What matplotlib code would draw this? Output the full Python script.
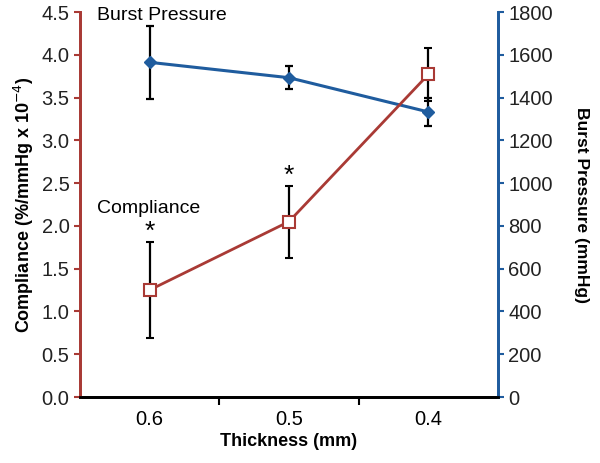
import matplotlib
matplotlib.use('Agg')
import matplotlib.pyplot as plt
import numpy as np

plt.rcParams['font.family'] = ['Liberation Sans', 'DejaVu Sans']

# Data
thickness = ['0.6', '0.5', '0.4']
compliance = [1.25, 2.05, 3.77]
compliance_err = [0.56, 0.42, 0.31]
burst = [1565, 1493, 1333]
burst_err = [172, 55, 66]
stars = ['*', '*', '']

red = '#A93A35'
blue = '#1F5C9E'

fig = plt.figure(figsize=(6, 4.63), dpi=100)
ax = fig.add_axes([0.133, 0.1425, 0.697, 0.8315])
ax2 = ax.twinx()

x = np.arange(len(thickness))

# Burst pressure (right axis)
ax2.errorbar(x, burst, yerr=burst_err, color=blue, lw=2.2, marker='D', ms=6,
             mfc=blue, mec=blue, ecolor='black', elinewidth=1.6, capsize=3,
             capthick=1.6, zorder=2)
ax2.set_ylim(0, 1800)
ax2.set_yticks(np.arange(0, 1801, 200))

# Compliance (left axis) drawn on top
ax.set_zorder(ax2.get_zorder() + 1)
ax.patch.set_visible(False)
ax.errorbar(x, compliance, yerr=compliance_err, color=red, lw=2, marker='s', ms=9,
            mfc='white', mec=red, mew=1.5, ecolor='black', elinewidth=1.6,
            capsize=3, capthick=1.6, zorder=3)
ax.set_ylim(0, 4.5)
ax.set_yticks(np.arange(0, 4.51, 0.5))
ax.set_yticklabels([f'{v:.1f}' for v in np.arange(0, 4.51, 0.5)])
ax.set_xlim(-0.5, 2.5)

for xi, c, e, s in zip(x, compliance, compliance_err, stars):
    if s:
        ax.text(xi, c + e - 0.02, s, ha='center', va='bottom', fontsize=19)

ax.text(-0.38, 4.46, 'Burst Pressure', fontsize=14, va='center')
ax.text(-0.38, 2.2, 'Compliance', fontsize=14, va='center')

# x axis: category labels, ticks at boundaries
ax.set_xticks([0.5, 1.5])
ax.set_xticklabels([])
ax.set_xticks(x, minor=True)
ax.set_xticklabels(thickness, minor=True, fontsize=14.5)
ax.tick_params(axis='x', which='major', direction='out', length=6, width=1.5)
ax.tick_params(axis='x', which='minor', length=0, pad=9)
ax.set_xlabel('Thickness (mm)', fontsize=13, fontweight='bold', labelpad=3)

ax.tick_params(axis='y', direction='out', length=4, width=1.5, colors=red,
               labelcolor='#222222', labelsize=14.5)
ax2.tick_params(axis='y', direction='out', length=4, width=1.5, colors=blue,
                labelcolor='#222222', labelsize=14.5)

ax.set_ylabel('Compliance (%/mmHg x 10$^{-4}$)', fontsize=13, fontweight='bold',
              labelpad=4)
ax2.set_ylabel('Burst Pressure (mmHg)', fontsize=12.5, fontweight='bold',
               rotation=270, labelpad=26)

for a in (ax, ax2):
    a.spines['top'].set_visible(False)
    a.spines['left'].set_color(red)
    a.spines['left'].set_linewidth(2)
    a.spines['right'].set_color(blue)
    a.spines['right'].set_linewidth(2)
    a.spines['bottom'].set_color('black')
    a.spines['bottom'].set_linewidth(2)

fig.savefig('out.png', dpi=100)
